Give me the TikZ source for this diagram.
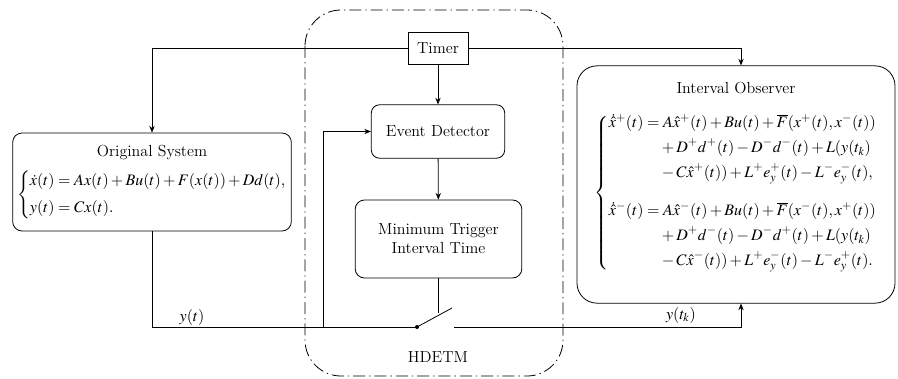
\documentclass[tikz,border=0pt]{standalone}
\usepackage{amsmath}
\usepackage{mathptmx}
\usetikzlibrary{arrows.meta}
\setlength{\jot}{3pt}

\begin{document}
\begin{tikzpicture}[x=0.75pt,y=-0.75pt,line width=0.6pt,
    >={Stealth[length=5pt,width=4pt]},
    font=\rmfamily\fontsize{12}{14.4}\selectfont,
    blockbox/.style={draw,rounded corners=7pt,align=center}]
  \useasboundingbox (0,0) rectangle (898,378);
  % HDETM frame
  \draw [dash pattern=on 9pt off 3pt on 1pt off 3pt,rounded corners=27pt] (305,10) rectangle (563,376);
  \node (hdetm) at (438,357) {HDETM};
  \node [draw,minimum width=45pt,minimum height=24pt] (timer) at (438,48) {Timer};
  \node [blockbox,rounded corners=6pt,minimum width=100pt,minimum height=40pt] (ed) at (438,131.5) {Event Detector};
  \node [blockbox,minimum width=125pt,minimum height=58.5pt] (mt) at (438.5,239) {Minimum Trigger\\Interval Time};
  % plant and observer
  \node [blockbox,minimum width=206pt,minimum height=73.5pt] (orig) at (152,182)
    {Original System\\[8pt]
     $\left\{\begin{aligned}
       &\dot{x}(t)=Ax(t)+Bu(t)+F(x(t))+Dd(t),\\[3pt]
       &y(t)=Cx(t).
     \end{aligned}\right.$};
  \node [blockbox,rounded corners=15pt,minimum width=238.5pt,minimum height=178pt] (io) at (736,184.5)
    {Interval Observer\\[14pt]
     $\left\{\begin{aligned}
       \dot{\hat{x}}^{+}(t)&=A\hat{x}^{+}(t)+Bu(t)+\overline{F}(x^{+}(t),x^{-}(t))\\
       &\quad+D^{+}d^{+}(t)-D^{-}d^{-}(t)+L(y(t_k)\\
       &\quad-C\hat{x}^{+}(t))+L^{+}e_y^{+}(t)-L^{-}e_y^{-}(t),\\[10pt]
       \dot{\hat{x}}^{-}(t)&=A\hat{x}^{-}(t)+Bu(t)+\overline{F}(x^{-}(t),x^{+}(t))\\
       &\quad+D^{+}d^{-}(t)-D^{-}d^{+}(t)+L(y(t_k)\\
       &\quad-C\hat{x}^{-}(t))+L^{+}e_y^{-}(t)-L^{-}e_y^{+}(t).
     \end{aligned}\right.$\\[10pt]\mbox{}};
  % switch
  \coordinate (tap) at (323,327);
  \coordinate (sw) at (417,327);
  \coordinate (swtip) at (452,308);
  \coordinate (swout) at (454,327);
  \draw [->] (timer.west) -| (orig.north);
  \draw [->] (timer.east) -| ([xshift=3.75pt]io.north);
  \draw [->] (timer) -- (ed);
  \draw [->] (ed) -- (mt);
  \draw (orig.south) |- (sw);
  \draw [->] (tap) |- (ed.west);
  \draw (mt.south) -- ++(0,35);
  \draw (sw) -- (swtip);
  \fill (sw) circle (1.5pt);
  \draw [->] (swout) -| ([xshift=3.75pt]io.south);
  \node (yt) at (192,317) {$y(t)$};
  \node (ytk) at (681,315) {$y(t_k)$};
\end{tikzpicture}
\end{document}
